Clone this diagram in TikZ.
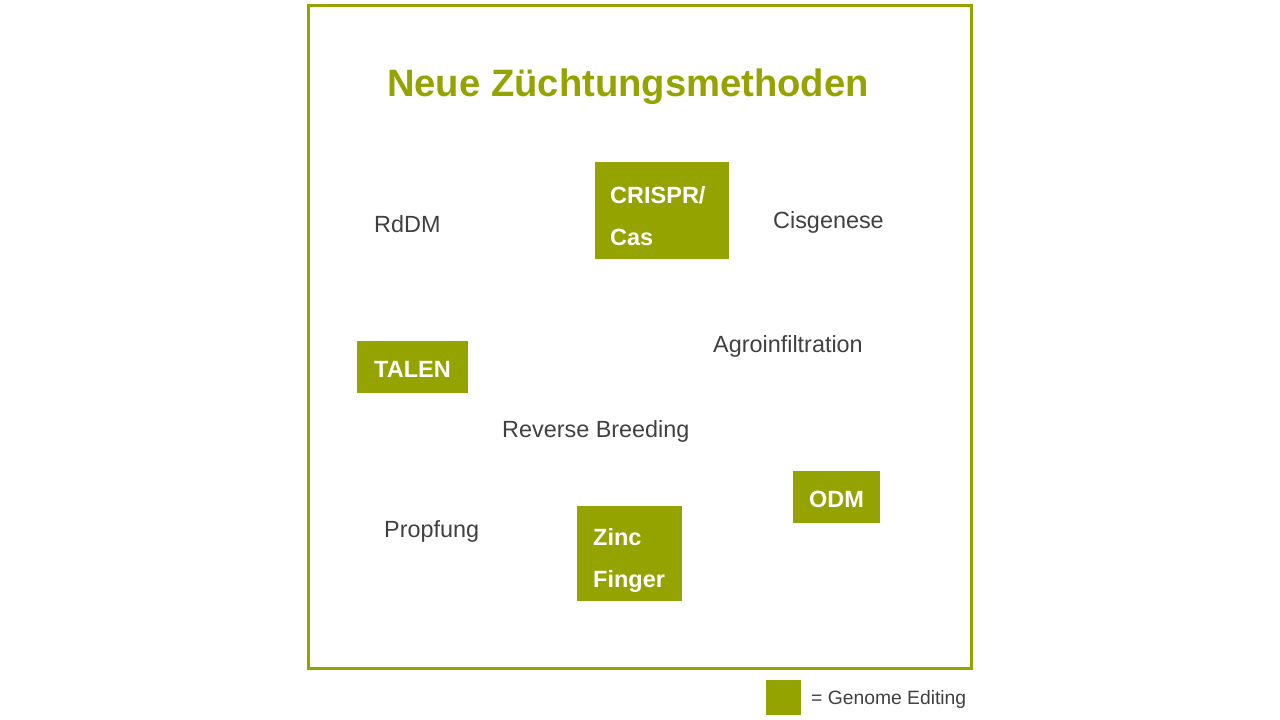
\documentclass[tikz,border=0pt]{standalone}
\usepackage{fontspec}
\setmainfont{Liberation Sans}
\definecolor{olive}{RGB}{148,163,0}
\definecolor{txt}{RGB}{64,64,64}
\begin{document}
\begin{tikzpicture}[x=1pt,y=-1pt,
  plain/.style={text=txt,font=\fontsize{23.4}{28}\selectfont,inner sep=0pt,anchor=west},
  gebox/.style={fill=olive,draw=none,inner sep=0pt,anchor=north west},
  getext/.style={text=white,font=\bfseries\fontsize{23.5}{28}\selectfont,inner sep=0pt,anchor=base west},
]
\useasboundingbox (0,0) rectangle (1280,720);
\draw[olive,line width=3pt] (308.5,5.5) rectangle (971.5,668.5);
\node[text=olive,font=\bfseries\fontsize{38.2}{42}\selectfont,inner sep=0pt] (title) at (628,87) {Neue Züchtungsmethoden};

\node[gebox,minimum width=134pt,minimum height=97pt] (crispr) at (595,162) {};
\node[getext] (crispr1) at (610,203.5) {CRISPR/};
\node[getext] (crispr2) at (610,245.5) {Cas};

\node[gebox,minimum width=111pt,minimum height=52pt] (talen) at (357,341) {};
\node[getext] (talent) at (374,377.5) {TALEN};

\node[gebox,minimum width=87pt,minimum height=52pt] (odm) at (793,471) {};
\node[getext,anchor=base] (odmt) at (836.5,507.5) {ODM};

\node[gebox,minimum width=105pt,minimum height=95pt] (zinc) at (577,506) {};
\node[getext] (zinc1) at (593,545.5) {Zinc};
\node[getext] (zinc2) at (593,587.5) {Finger};

\node[plain] (rddm) at (374,224.5) {RdDM};
\node[plain] (cis) at (773,222.5) {Cisgenese};
\node[plain] (agro) at (713,346.5) {Agroinfiltration};
\node[plain] (rev) at (502,431.5) {Reverse Breeding};
\node[plain] (propf) at (384,531.5) {Propfung};

\node[gebox,minimum width=35pt,minimum height=35pt] (leg) at (766,680) {};
\node[plain,font=\fontsize{19.3}{23}\selectfont] (legt) at (811,700) {= Genome Editing};
\end{tikzpicture}
\end{document}
